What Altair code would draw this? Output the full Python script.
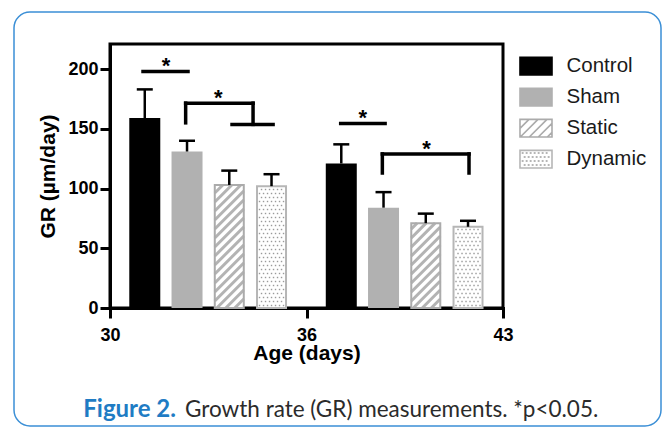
import json
import altair as alt
import pandas as pd

# ---------------- data ----------------
series = ["Control", "Sham", "Static", "Dynamic"]
age_groups = ["30-36", "36-43"]
gr_30_36 = [159, 131, 103, 102]
gr_36_43 = [121, 84, 71, 68]
sd_30_36 = [24, 9, 12, 10]
sd_36_43 = [16, 13, 8, 5]
x_tick_values = [0, 1, 2]
x_tick_labels = ["30", "36", "43"]
y_ticks = [0, 50, 100, 150, 200]

# significance annotation segments (data units)
sig_x1 = [0.168, 0.385, 0.621, 0.385, 0.728, 1.174, 1.386, 1.386, 1.827]
sig_x2 = [0.397, 0.728, 0.830, 0.385, 0.728, 1.400, 1.827, 1.386, 1.827]
sig_y1 = [198, 171.5, 153.7, 155, 153.7, 154.5, 129, 113, 113]
sig_y2 = [198, 171.5, 153.7, 171.5, 171.5, 154.5, 129, 129, 129]
star_x = [0.285, 0.551, 1.286, 1.611]
star_y = [198, 171.5, 154.5, 129]

# ---------------- layout / style ----------------
W, H = 393, 264
X_MAX, Y_MAX = 2, 221
PXX = W / X_MAX
PXY = H / Y_MAX
HATCH = 9
DOT = 4

fill_colors = ["#000000", "#b1b1b1", "#ffffff", "#ffffff"]
stroke_colors = ["#000000", "#b1b1b1", "#ababab", "#b6b6b6"]

rows = []
for g, (vals, sds) in enumerate([(gr_30_36, sd_30_36), (gr_36_43, sd_36_43)]):
    for i, s in enumerate(series):
        pos = g + 0.177 + 0.215 * i
        hw = (15.5 if i < 2 else 14.5) / PXX
        rows.append({
            "series": s, "age": age_groups[g], "value": vals[i], "sd": sds[i],
            "pos": pos, "xl": pos - hw, "xr": pos + hw, "y0": 0,
            "top": vals[i] + sds[i], "capl": pos - 8 / PXX, "capr": pos + 8 / PXX,
            "fc": fill_colors[i], "sc": stroke_colors[i],
        })
bars_df = pd.DataFrame(rows)
sig_df = pd.DataFrame({"x1": sig_x1, "x2": sig_x2, "y1": sig_y1, "y2": sig_y2})
star_df = pd.DataFrame({"x": star_x, "y": star_y, "t": ["*"] * len(star_x)})
one = pd.DataFrame({"a": [0]})

xscale = alt.Scale(domain=[0, X_MAX], nice=False, zero=False)
yscale = alt.Scale(domain=[0, Y_MAX], nice=False)
xaxis = alt.Axis(values=x_tick_values,
                 labelExpr=f"{json.dumps(x_tick_labels)}[datum.value]",
                 title="Age (days)", labelPadding=8, titlePadding=-2,
                 labelFlush=False)
yaxis = alt.Axis(values=y_ticks, title="GR (µm/day)", labelPadding=2,
                 titlePadding=9, labelFlush=False)


def X(f):
    return alt.X(f, scale=xscale, axis=xaxis)


def Y(f):
    return alt.Y(f, scale=yscale, axis=yaxis)


# legend symbol paths (unit space, scaled by sqrt(size)/2)
SYM = 864
unit = (SYM ** 0.5) / 2
hx, hy = 16 / unit, 8.85 / unit
rect_path = f"M{-hx:.3f},{-hy:.3f}H{hx:.3f}V{hy:.3f}H{-hx:.3f}Z"


def hatch_path():
    p = rect_path
    step = HATCH / unit
    span = 2 * hy
    x0 = -hx - span
    while x0 < hx:
        a, b = x0, x0 + span
        ca, cb = max(a, -hx), min(b, hx)
        if ca < cb:
            ya = hy - (ca - a)
            yb = hy - (cb - a)
            p += f"M{ca:.3f},{ya:.3f}L{cb:.3f},{yb:.3f}"
        x0 += step
    return p


def dot_path():
    p = rect_path
    d = DOT / unit
    r = 0.02
    j = 0
    y = -hy + 2.5 / unit
    while y < hy - 1.5 / unit:
        x = -hx + 2.5 / unit + (d / 2 if j % 2 else 0)
        while x < hx - 1.5 / unit:
            p += f"M{x:.3f},{y:.3f}h{r}v{r}h{-r}Z"
            x += d
        y += d
        j += 1
    return p


shape_paths = [rect_path, rect_path, hatch_path(), dot_path()]

# ---------------- layers ----------------
card = alt.Chart(one).mark_rect(
    cornerRadius=16, fill="#ffffff", fillOpacity=0, stroke="#3b8fd6", strokeWidth=1.5
).encode(x=alt.value(-96), x2=alt.value(551), y=alt.value(-32), y2=alt.value(382))

bar_fill = alt.Chart(bars_df).mark_rect().encode(
    x=X("xl:Q"), x2="xr:Q", y=Y("value:Q"), y2="y0:Q",
    fill=alt.Fill("fc:N", scale=None),
)

hatch = (
    alt.Chart(bars_df)
    .transform_filter("datum.series == 'Static'")
    .transform_calculate(Wp=f"(datum.xr - datum.xl) * {PXX}", Hp=f"datum.value * {PXY}")
    .transform_calculate(ks=f"sequence(0, ceil((datum.Wp + datum.Hp) / {HATCH}) + 1)")
    .transform_flatten(["ks"])
    .transform_calculate(c=f"datum.Wp - datum.ks * {HATCH}")
    .transform_calculate(u1="max(0, datum.c)", u2="min(datum.Wp, datum.Hp + datum.c)")
    .transform_filter("datum.u1 < datum.u2")
    .transform_calculate(
        hx1=f"datum.xl + datum.u1 / {PXX}", hx2=f"datum.xl + datum.u2 / {PXX}",
        hy1=f"(datum.u1 - datum.c) / {PXY}", hy2=f"(datum.u2 - datum.c) / {PXY}",
    )
    .mark_rule(color="#b3b3b3", strokeWidth=3, strokeCap="butt")
    .encode(x=X("hx1:Q"), x2="hx2:Q", y=Y("hy1:Q"), y2="hy2:Q")
)

dots = (
    alt.Chart(bars_df)
    .transform_filter("datum.series == 'Dynamic'")
    .transform_calculate(Wp=f"(datum.xr - datum.xl) * {PXX}", Hp=f"datum.value * {PXY}")
    .transform_calculate(nx=f"sequence(0, floor(datum.Wp / {DOT}) + 1)",
                         ny=f"sequence(0, floor(datum.Hp / {DOT}) + 1)")
    .transform_flatten(["nx"])
    .transform_flatten(["ny"])
    .transform_calculate(px=f"2.5 + datum.nx * {DOT} + (datum.ny % 2) * {DOT / 2}",
                         py=f"2.5 + datum.ny * {DOT}")
    .transform_filter("datum.px < datum.Wp - 1.5 && datum.py < datum.Hp - 1.5")
    .transform_calculate(dx=f"datum.xl + datum.px / {PXX}", dy=f"datum.py / {PXY}")
    .mark_square(size=2, color="#9a9a9a", opacity=1)
    .encode(x=X("dx:Q"), y=Y("dy:Q"))
)

outline = (
    alt.Chart(bars_df)
    .transform_filter("datum.series == 'Static' || datum.series == 'Dynamic'")
    .mark_rect(fillOpacity=0, strokeWidth=2)
    .encode(x=X("xl:Q"), x2="xr:Q", y=Y("value:Q"), y2="y0:Q",
            stroke=alt.Stroke("sc:N", scale=None))
)

err_v = alt.Chart(bars_df).mark_rule(color="#000000", strokeWidth=2.5).encode(
    x=X("pos:Q"), y=Y("value:Q"), y2="top:Q")
err_cap = alt.Chart(bars_df).mark_rule(color="#000000", strokeWidth=2.5).encode(
    x=X("capl:Q"), x2="capr:Q", y=Y("top:Q"))

sig = alt.Chart(sig_df).mark_rule(color="#000000", strokeWidth=3.5, strokeCap="square").encode(
    x=X("x1:Q"), x2="x2:Q", y=Y("y1:Q"), y2="y2:Q")

stars = alt.Chart(star_df).mark_text(
    font="Liberation Sans", fontSize=22, fontWeight="bold", baseline="alphabetic",
    dy=2, color="#000000"
).encode(x=X("x:Q"), y=Y("y:Q"), text="t:N")

cap1 = alt.Chart(one).mark_text(
    text="Figure 2.", font="Lato", fontSize=24, fontWeight="bold", color="#1f7cc4",
    align="right", baseline="alphabetic"
).encode(x=alt.value(66), y=alt.value(372.7))
cap2 = alt.Chart(one).mark_text(
    text="Growth rate (GR) measurements. *p<0.05.", font="Lato", fontSize=22.5,
    color="#2b2b2b", align="left", baseline="alphabetic"
).encode(x=alt.value(75), y=alt.value(372.7))

leg = alt.Legend(title=None, orient="none", legendX=410.5, legendY=6.7,
                 padding=0, rowPadding=3, symbolSize=SYM,
                 symbolOpacity=1, symbolStrokeWidth=1.6,
                 labelFont="Liberation Sans", labelFontSize=20.5,
                 labelColor="#1a1a1a", labelOffset=15, labelBaseline="middle")

legend_pts = alt.Chart(bars_df).mark_point(filled=True, opacity=0, strokeWidth=1.6).encode(
    x=X("pos:Q"), y=Y("value:Q"),
    shape=alt.Shape("series:N", scale=alt.Scale(domain=series, range=shape_paths), legend=leg),
    fill=alt.Fill("series:N", scale=alt.Scale(domain=series, range=fill_colors), legend=leg),
    stroke=alt.Stroke("series:N", scale=alt.Scale(domain=series, range=stroke_colors), legend=leg),
)

chart = (
    alt.layer(card, bar_fill, hatch, dots, outline, err_v, err_cap, sig, stars, cap1, cap2, legend_pts)
    .properties(
        width=W, height=H,
        autosize=alt.AutoSizeParams(type="none"),
        padding={"left": 102, "top": 36, "right": 159, "bottom": 120},
        background="#ffffff",
    )
    .configure_view(stroke="#000000", strokeWidth=3)
    .configure_axis(
        domainColor="#000000", domainWidth=3, domainCap="square",
        tickColor="#000000", tickWidth=3, tickSize=10,
        labelFont="Liberation Sans", labelFontWeight="bold", labelFontSize=18, labelColor="#000000",
        titleFont="Liberation Sans", titleFontWeight="bold", titleFontSize=21, titleColor="#000000",
        grid=False,
    )
)

chart.save("out.html", embed_options={"renderer": "svg", "actions": False})
